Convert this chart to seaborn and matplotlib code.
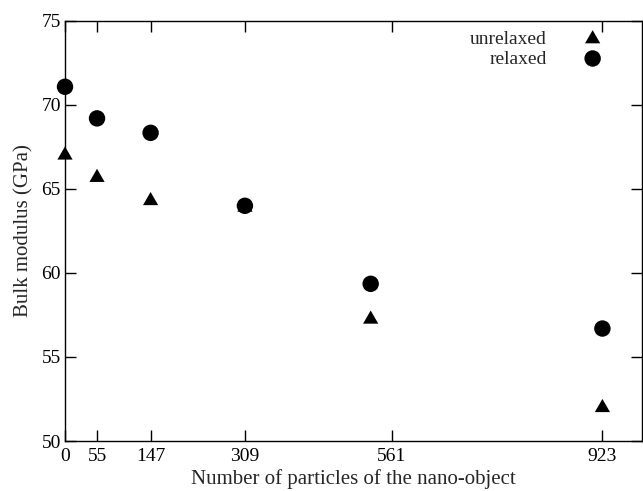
import matplotlib
matplotlib.use("Agg")
import matplotlib.pyplot as plt
import seaborn as sns
import pandas as pd

# Data
particles = [0, 55, 147, 309, 525, 923]
unrelaxed = [67.0, 65.67, 64.29, 63.9, 57.24, 51.98]
relaxed = [71.07, 69.19, 68.33, 63.99, 59.35, 56.69]
xtick_vals = [0, 55, 147, 309, 561, 923]
ytick_vals = [50, 55, 60, 65, 70, 75]

sns.set_theme(style="ticks")
plt.rcParams['font.family'] = ['Liberation Serif', 'DejaVu Serif']
plt.rcParams['mathtext.fontset'] = 'stix'

df = pd.DataFrame({
    "particles": particles * 2,
    "modulus": unrelaxed + relaxed,
    "series": ["unrelaxed"] * len(particles) + ["relaxed"] * len(particles),
})

fig = plt.figure(figsize=(6.43, 4.91), dpi=100)
ax = fig.add_axes([65 / 643, 1 - 441 / 491, (642 - 65) / 643, (441 - 20.7) / 491])

tri = [(-1, -0.5774), (1, -0.5774), (0, 1.1547)]
sns.scatterplot(data=df[df.series == "unrelaxed"], x="particles", y="modulus",
                marker=tri, s=160, color="black", edgecolor="none",
                label="unrelaxed", ax=ax, zorder=3, clip_on=False)
sns.scatterplot(data=df[df.series == "relaxed"], x="particles", y="modulus",
                marker="o", s=140, color="black", edgecolor="none",
                label="relaxed", ax=ax, zorder=4, clip_on=False)

ax.set_xlim(0, 991)
ax.set_ylim(50, 75)
ax.set_xticks(xtick_vals)
ax.set_xticklabels([str(v) for v in xtick_vals])
ax.set_yticks(ytick_vals)
ax.set_yticklabels([str(v) for v in ytick_vals])
ax.tick_params(direction="in", length=8, width=1, top=True, right=True,
               labelsize=14, colors="black")
ax.tick_params(axis="y", pad=3)
ax.tick_params(axis="x", pad=5)
for sp in ax.spines.values():
    sp.set_visible(True)
    sp.set_linewidth(1)
    sp.set_color("black")

ax.set_xlabel("Number of particles of the nano-object", fontsize=15, labelpad=3)
ax.set_ylabel("Bulk modulus (GPa)", fontsize=15, labelpad=6)

ax.legend(loc="upper right", frameon=False, markerfirst=False, fontsize=14,
          handletextpad=1.35, labelspacing=0.1, borderaxespad=0.1,
          bbox_to_anchor=(0.965, 1.0))

fig.savefig("out.png", dpi=100)
